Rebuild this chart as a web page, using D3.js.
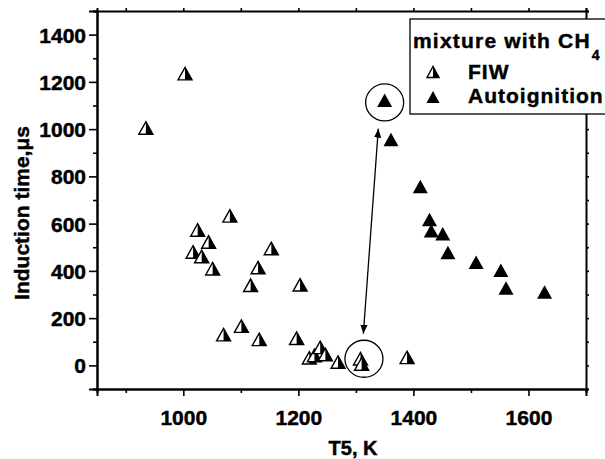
<!DOCTYPE html>
<html><head><meta charset="utf-8">
<script src="https://cdn.jsdelivr.net/npm/d3@7"></script>
<style>
html,body{margin:0;padding:0;background:#fff;}
svg{display:block;font-family:"Liberation Sans",Arial,sans-serif;font-weight:bold;}
svg text{stroke:#000;stroke-width:0.45px;}
</style></head>
<body>
<svg id="c" width="605" height="459"></svg>
<script>
// FIW (half-filled triangles)
const fiwT = [1003, 935, 1081, 1025, 1044, 1017, 1032, 1051, 1153, 1130, 1117, 1203, 1070, 1101, 1132, 1197, 1219, 1228, 1238, 1247, 1269, 1308, 1310, 1389];
const fiwV = [1235, 1005, 633, 573, 522, 480, 461, 409, 495, 414, 339, 341, 130, 166, 110, 115, 32, 42, 76, 46, 14, 28, 6, 34];
// Autoignition (filled triangles)
const autoT = [1350, 1361, 1412, 1428, 1431, 1451, 1460, 1509, 1552, 1561, 1628];
const autoV = [1122, 956, 757, 617, 570, 557, 478, 437, 403, 328, 311];
// axis ticks
const xTicks = [1000, 1200, 1400, 1600];
const xMinor = [900, 1100, 1300, 1500, 1700];
const yTicks = [0, 200, 400, 600, 800, 1000, 1200, 1400];
const yMinor = [-100, 100, 300, 500, 700, 900, 1100, 1300, 1500];
// annotations (data units)
const circleCenters = [[1350, 1113], [1314, 28]];
const arrowEnds = [[1339, 1002], [1313, 134]];
const legendLabels = ["FIW", "Autoignition"];

const svg = d3.select("#c");
const L = 97, R = 586, T = 11, B = 389;
const x = d3.scaleLinear().domain([850, 1700]).range([L, R]);
const y = d3.scaleLinear().domain([-100, 1500]).range([B, T]);

// defs
const defs = svg.append("defs");
defs.append("marker").attr("id", "ah").attr("viewBox", "0 0 10 10")
  .attr("refX", 10).attr("refY", 5).attr("markerWidth", 9).attr("markerHeight", 9)
  .attr("markerUnits", "userSpaceOnUse").attr("orient", "auto-start-reverse")
  .append("path").attr("d", "M0,1 L10,5 L0,9 Z").attr("fill", "#000");

// axes
const gB = svg.append("g").attr("transform", `translate(0,${B})`)
  .call(d3.axisBottom(x).tickValues(xTicks).tickSize(7).tickFormat(d3.format("d")));
const gBm = svg.append("g").attr("transform", `translate(0,${B})`)
  .call(d3.axisBottom(x).tickValues(xMinor).tickSize(4).tickFormat(""));
const gL = svg.append("g").attr("transform", `translate(${L},0)`)
  .call(d3.axisLeft(y).tickValues(yTicks).tickSize(8).tickFormat(d3.format("d")));
const gLm = svg.append("g").attr("transform", `translate(${L},0)`)
  .call(d3.axisLeft(y).tickValues(yMinor).tickSize(4).tickFormat(""));
const gT = svg.append("g").attr("transform", `translate(0,${T})`)
  .call(d3.axisTop(x).tickValues(xTicks.concat(xMinor)).tickSize(3).tickFormat(""));
const gR = svg.append("g").attr("transform", `translate(${R},0)`)
  .call(d3.axisRight(y).tickValues(yTicks.concat(yMinor)).tickSize(3).tickFormat(""));
[gB, gBm, gL, gLm, gT, gR].forEach(g => {
  g.select(".domain").attr("stroke", "#000").attr("stroke-width", 2);
  g.selectAll(".tick line").attr("stroke", "#000").attr("stroke-width", 1.6);
  g.selectAll("text").attr("fill", "#000").attr("font-size", 21)
    .attr("font-family", "'Liberation Sans',Arial,sans-serif").attr("font-weight", "bold");
});
gB.selectAll("text").attr("dy", 0).attr("y", 36);
gL.selectAll("text").attr("x", -11).attr("dy", "0.36em");

// axis titles
svg.append("text").attr("x", 353).attr("y", 455).attr("text-anchor", "middle")
  .attr("font-size", 20).text("T5, K");
svg.append("text").attr("transform", "translate(29,213) rotate(-90)")
  .attr("text-anchor", "middle").attr("font-size", 21)
  .text("Induction time,\u03bcs");

// markers
const tw = 14, th = 12.5;
function halfTri(g, cx, cy, w, h) {
  const l = cx - w / 2, r = cx + w / 2, t = cy - h / 2, b = cy + h / 2;
  g.append("path").attr("d", `M${l},${b} L${cx},${t} L${r},${b} Z`).attr("fill", "#fff");
  g.append("path").attr("d", `M${cx},${t} L${r},${b} L${cx},${b} Z`).attr("fill", "#000");
  g.append("path").attr("d", `M${l},${b} L${cx},${t} L${r},${b} Z`)
    .attr("fill", "none").attr("stroke", "#000").attr("stroke-width", 1.4).attr("stroke-linejoin", "miter");
}
function fullTri(g, cx, cy, w, h) {
  const l = cx - w / 2, r = cx + w / 2, t = cy - h / 2, b = cy + h / 2;
  g.append("path").attr("d", `M${l},${b} L${cx},${t} L${r},${b} Z`).attr("fill", "#000");
}
const pts = svg.append("g");
fiwT.forEach((t, i) => halfTri(pts, x(t), y(fiwV[i]), tw, th));
autoT.forEach((t, i) => fullTri(pts, x(t), y(autoV[i]), tw + 1, th + 1));

// circles
svg.selectAll("ellipse.ann").data(circleCenters).join("ellipse")
  .attr("cx", d => x(d[0])).attr("cy", d => y(d[1])).attr("rx", 19).attr("ry", 18.5)
  .attr("fill", "none").attr("stroke", "#000").attr("stroke-width", 1.3);
// arrow
svg.append("line").attr("x1", x(arrowEnds[0][0])).attr("y1", y(arrowEnds[0][1]))
  .attr("x2", x(arrowEnds[1][0])).attr("y2", y(arrowEnds[1][1]))
  .attr("stroke", "#000").attr("stroke-width", 1.3)
  .attr("marker-start", "url(#ah)").attr("marker-end", "url(#ah)");

// legend
const lg = svg.append("g");
lg.append("rect").attr("x", 410).attr("y", 19).attr("width", 220).attr("height", 95)
  .attr("fill", "#fff").attr("stroke", "#000").attr("stroke-width", 1.3);
const lt = lg.append("text").attr("x", 413).attr("y", 48).attr("font-size", 21)
  .attr("letter-spacing", 1.2);
lt.append("tspan").text("mixture with CH");
lt.append("tspan").attr("font-size", 14).attr("dy", 12).attr("dx", 1).text("4");
halfTri(lg, 433, 72, 12, 11);
fullTri(lg, 433, 97, 13, 12);
lg.selectAll("text.li").data(legendLabels).join("text").attr("class", "li")
  .attr("x", 468).attr("y", (d, i) => 79 + i * 24).attr("font-size", 21)
  .attr("letter-spacing", 1).text(d => d);
</script>
</body></html>
